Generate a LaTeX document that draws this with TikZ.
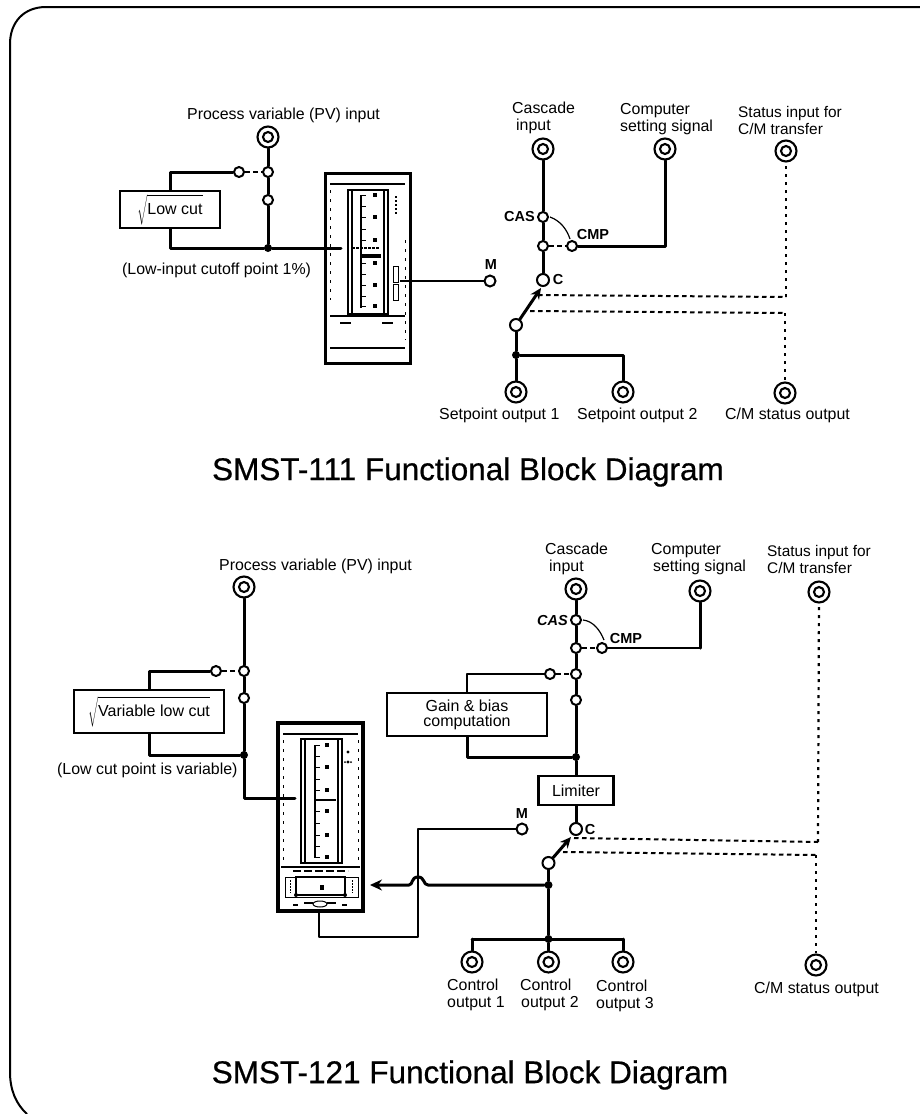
\documentclass[tikz,border=0pt]{standalone}
\usepackage{fontspec}
\setmainfont{Liberation Sans}
\usetikzlibrary{arrows.meta}
\tikzset{
  x=1pt,y=-1pt,
  lab/.style={font=\fontsize{15.9}{17}\selectfont,inner sep=0pt,align=left,anchor=west},
  ttl/.style={font=\fontsize{31.5}{34}\selectfont\addfontfeature{FakeBold=0.6},inner sep=0pt},
  tag/.style={font=\bfseries\fontsize{14.5}{16}\selectfont,inner sep=0pt},
  jack/.style={circle,draw,fill=white,line width=2.1pt,minimum size=21pt,inner sep=0pt,
    path picture={\draw[line width=2.1pt] (path picture bounding box.center) circle (5pt);}},
  sw/.style={circle,draw,fill=white,line width=2pt,minimum size=10pt,inner sep=0pt},
  swb/.style={sw,minimum size=12pt},
  dotj/.style={circle,fill=black,minimum size=8pt,inner sep=0pt},
  blockbox/.style={draw,fill=white,line width=2.4pt,inner sep=0pt,align=center,font=\fontsize{16}{15}\selectfont},
  wire/.style={line width=3pt,line cap=round,line join=round},
  wirem/.style={line width=2.9pt,line join=round},
  dashh/.style={line width=2pt,dash pattern=on 4.5pt off 3.5pt},
  dashv/.style={line width=2.2pt,dash pattern=on 3pt off 5pt},
  thinl/.style={line width=1.2pt},
  casing/.style={draw,line width=3pt,inner sep=0pt},
  rulel/.style={line width=1.6pt},
  fuzz/.style={line width=.8pt,dash pattern=on 3pt off 6pt},
  blob/.style={fill=black,minimum width=4pt,minimum height=4pt,inner sep=0pt},
}
\begin{document}
\begin{tikzpicture}
\useasboundingbox (0,0) rectangle (920,1114);
% outer frame
\draw[line width=2pt] (920,7) -- (46,7) .. controls (24,7) and (10,22) .. (10,44) -- (10,1072) .. controls (10,1090) and (16,1104) .. (27,1114);

% ===== titles
\node[ttl] (t1) at (468,472) {SMST-111 Functional Block Diagram};
\node[ttl] (t2) at (470,1075) {SMST-121 Functional Block Diagram};

% ===== SMST-111 left
\node[jack] (pvA) at (268,137) {};
\node[sw] (swA1) at (268,172) {};
\node[sw] (swA2) at (268,200) {};
\node[sw] (swA3) at (239,172) {};
\node[dotj] (jA) at (268,248) {};
\node[blockbox,minimum width=100pt,minimum height=37pt] (lowA) at (170,209.5) {$\sqrt{\vphantom{\bigg(}\mbox{Low cut}}$};
\coordinate (inA) at (341,248);
\node[lab] (lpvA) at (187,115) {Process variable (PV) input};
\node[lab] (lcutA) at (122,270) {(Low-input cutoff point 1\%)};
\draw[wire] (pvA) -- (swA1) (swA1) -- (swA2) (swA2) -- (jA);
\draw[wire] (swA3) -| (lowA);
\draw[wire] (lowA) |- (jA);
\draw[wire] (jA) -- (inA);
\draw[dashh] (swA3) -- (swA1);

% ===== instrument A
\node[casing,minimum width=85pt,minimum height=190pt] (instA) at (367.5,268) {};
\draw[rulel] (330,184) -- (405,184) (330,316) -- (405,316) (330,348) -- (405,348);
\draw[line width=1.8pt] (348,190) rectangle (388,314);
\draw[thinl] (352,190) -- (352,314) (384,190) -- (384,314);
\draw[line width=1.5pt] (361,195) -- (361,308);
\foreach \y in {195,206,217,229,240,263,274,285,296,306} \draw[line width=1pt] (361,\y) -- (366,\y);
\foreach \y in {195,217,240,263,285,306} \node[blob] at (375,\y) {};
\draw[line width=3.5pt] (362,256) -- (381,256);
\draw[line width=1.5pt,dash pattern=on 3pt off 1pt] (352,248) -- (380,248);
\draw[line width=1pt] (393,266) rectangle (398,282) (393,284) rectangle (398,300);
\draw[line width=1.5pt,dash pattern=on 2pt off 2pt] (396,196) -- (396,214);
\draw[line width=1.2pt] (340,323) -- (351,323) (382,323) -- (393,323);
\draw[fuzz] (330,190) -- (330,300) (405,240) -- (405,340);

\coordinate (outA) at (400,281);
\node[sw,minimum size=11pt] (mA) at (490,281) {};
\node[tag] (tagMA) at (491,265) {M};
\draw[wirem] (outA) -- (mA);

% ===== SMST-111 right
\node[jack] (casA) at (543,149) {};
\node[jack] (cmpA) at (665,149) {};
\node[jack] (stA) at (786,151) {};
\node[jack] (so1) at (516,392) {};
\node[jack] (so2) at (623,392) {};
\node[jack] (csA) at (785,393) {};
\node[sw] (casswA) at (543,217) {};
\node[sw] (midA) at (543,246) {};
\node[sw] (cmpswA) at (572,246) {};
\node[swb] (cA) at (543,280) {};
\node[swb] (armA) at (516,325) {};
\node[dotj] (jSP) at (516,355) {};
\coordinate (cornerA) at (665,246);
\coordinate (tipA) at (541,288);
\coordinate (d1A) at (538,295);
\coordinate (d1Ar) at (786,297);
\coordinate (d2A) at (530,311);
\coordinate (d2Ar) at (785,313);
\coordinate (brA) at (623,355);
\node[lab] (lcasA) at (512,117.5) {Cascade\\\hspace{4pt}input};
\node[lab] (lcmpA) at (620,119) {Computer\\setting signal};
\node[lab,font=\fontsize{15.4}{17}\selectfont] (lstA) at (738,120.5) {Status input for\\C/M transfer};
\node[lab] (lso1) at (439,415) {Setpoint output 1};
\node[lab] (lso2) at (577,415) {Setpoint output 2};
\node[lab] (lcsA) at (725,415) {C/M status output};
\node[tag,anchor=east] (tCASa) at (535,217) {CAS};
\node[tag] (tCMPa) at (593,235) {CMP};
\node[tag] (tCa) at (558,280) {C};
\draw[wire] (casA) -- (casswA) (casswA) -- (midA) (midA) -- (cA);
\draw[wire] (cmpswA) -- (cornerA) -- (cmpA);
\draw[dashh] (midA) -- (cmpswA);
\draw[thinl] (casswA.east) ++(1,0) .. controls (561,221) and (567,230) .. (570,239);
\draw[wire,-{Stealth[length=11pt,width=10pt]}] (armA) -- (tipA);
\draw[wire] (armA) -- (jSP) (jSP) -- (so1);
\draw[wire] (jSP) -- (brA) -- (so2);
\draw[dashh] (d1A) -- (d1Ar);
\draw[dashh] (d2A) -- (d2Ar);
\draw[dashv] (d1Ar) -- (stA);
\draw[dashv] (d2Ar) -- (csA);

% ===== SMST-121 left
\node[jack] (pvB) at (244,587) {};
\node[sw] (swB1) at (244,671) {};
\node[sw] (swB2) at (244,698) {};
\node[sw] (swB3) at (216,671) {};
\node[dotj] (jB) at (244,755) {};
\node[blockbox,minimum width=150pt,minimum height=43pt] (lowB) at (149,711.5) {$\sqrt{\vphantom{\bigg(}\mbox{Variable low cut}}$};
\coordinate (kneeB) at (244,798);
\coordinate (inB) at (295,798);
\node[lab] (lpvB) at (219,566) {Process variable (PV) input};
\node[lab] (lcutB) at (57,770) {(Low cut point is variable)};
\draw[wire] (pvB) -- (swB1) (swB1) -- (swB2) (swB2) -- (jB);
\draw[wire] (swB3) -| (lowB);
\draw[wire] (lowB) |- (jB);
\draw[wire] (jB) -- (kneeB) -- (inB);
\draw[dashh] (swB3) -- (swB1);

% ===== instrument B
\node[casing,line width=3.6pt,minimum width=85pt,minimum height=188pt] (instB) at (320.5,817) {};
\draw[rulel] (283,734) -- (358,734) (281,867) -- (360,867);
\draw[line width=2.6pt] (301,739) rectangle (342,863);
\draw[thinl] (305,739) -- (305,863) (338,739) -- (338,863);
\draw[line width=1.8pt] (315,745) -- (315,858);
\foreach \y in {745,756,767,779,790,811,823,835,846,857} \draw[line width=1pt] (315,\y) -- (320,\y);
\foreach \y in {745,767,790,811,835,857} \node[blob] at (327,\y) {};
\draw[line width=2pt] (315,800) -- (336,800);
\draw[fuzz] (283,740) -- (283,860) (358,740) -- (358,860);
\fill (348,752) circle (1.6pt) (348,762) circle (1.6pt) (345,762) circle (1pt) (351,762) circle (1pt);
\draw[line width=1pt] (285,877) rectangle (358,897);
\draw[line width=1.6pt] (296,877) -- (345,877) -- (345,895) -- (296,895) -- cycle;
\draw[line width=1pt,dash pattern=on 2pt off 1pt] (290,880) -- (290,893) (352,880) -- (352,893);
\draw[line width=1.5pt,dash pattern=on 8pt off 3pt] (293,871) -- (348,871);
\node[blob,minimum height=5pt] at (322,887) {};
\draw[line width=1pt] (320,904) ellipse (7pt and 3pt);
\draw[line width=1.5pt] (293,905) -- (298,905) (304,903) -- (313,903) (327,903) -- (336,903) (342,905) -- (347,905);
\fill (296,895) circle (2pt) (345,895) circle (2pt);

% ===== SMST-121 middle
\node[jack] (casB) at (576,589) {};
\node[jack] (cmpB) at (700,591) {};
\node[jack] (stB) at (819,592) {};
\node[jack] (cu1) at (472,962) {};
\node[jack] (cu2) at (548.5,962) {};
\node[jack] (cu3) at (623,962) {};
\node[jack] (csB) at (816,965) {};
\node[sw] (casswB) at (576,620) {};
\node[sw] (midB) at (576,648) {};
\node[sw] (cmpswB) at (602,648) {};
\node[sw] (sw2B) at (576,674) {};
\node[sw] (sw3B) at (576,700) {};
\node[sw] (sw4B) at (550,674) {};
\node[dotj] (jG) at (576,757) {};
\node[blockbox,minimum width=160pt,minimum height=43pt] (gain) at (467,714.5) {Gain \& bias\\computation};
\node[blockbox,minimum width=75pt,minimum height=29pt] (lim) at (576,790.5) {Limiter};
\node[swb] (cB) at (576,829) {};
\node[swb] (armB) at (548.5,863) {};
\node[dotj] (jO) at (548.5,885) {};
\node[dotj] (jC) at (548.5,939) {};
\node[sw,minimum size=11pt] (mB) at (522,829) {};
\coordinate (cornerB) at (700,648);
\coordinate (tipB) at (571,837);
\coordinate (d1B) at (574,838);
\coordinate (d1Br) at (818,842);
\coordinate (d2B) at (563,852);
\coordinate (d2Br) at (816,855);
\coordinate (br1) at (472,939);
\coordinate (br3) at (623,939);
\coordinate (mk1) at (418,829);
\coordinate (mk2) at (418,937);
\coordinate (mk3) at (319,937);
\coordinate (hR) at (428,885);
\coordinate (hL) at (409,885);
\coordinate (tipO) at (370,885);
\node[lab] (lcasB) at (545,558.5) {Cascade\\\hspace{4pt}input};
\node[lab] (lcmpB) at (651,559) {Computer\\\hspace{2pt}setting signal};
\node[lab,font=\fontsize{15.4}{17}\selectfont] (lstB) at (767,559.5) {Status input for\\C/M transfer};
\node[lab] (lu1) at (447,994.5) {Control\\output 1};
\node[lab] (lu2) at (520,995) {Control\\\hspace{1pt}output 2};
\node[lab] (lu3) at (596,995.5) {Control\\output 3};
\node[lab] (lcsB) at (754,989) {C/M status output};
\node[tag,font=\bfseries\itshape\fontsize{14.5}{16}\selectfont,anchor=east] (tCASb) at (568,620) {CAS};
\node[tag] (tCMPb) at (626,638) {CMP};
\node[tag] (tCb) at (590,829) {C};
\node[tag] (tMb) at (522,814) {M};
\draw[wire] (casB) -- (casswB) (casswB) -- (midB) (midB) -- (sw2B) (sw2B) -- (sw3B) (sw3B) -- (jG);
\draw[wire] (jG) -- (lim);
\draw[wire] (lim) -- (cB);
\draw[wirem] (cmpswB) -- (cornerB);
\draw[wire] (cornerB) -- (cmpB);
\draw[dashh] (midB) -- (cmpswB);
\draw[dashh] (sw4B) -- (sw2B);
\draw[wirem] (sw4B) -| (gain);
\draw[wire] (gain) |- (jG);
\draw[thinl] (casswB.east) ++(1,0) .. controls (593,621) and (600,630) .. (604,640);
\draw[wire,-{Stealth[length=11pt,width=10pt]}] (armB) -- (tipB);
\draw[wire] (armB) -- (jO) (jO) -- (jC);
\draw[wire] (br1) -- (br3);
\draw[wire] (br1) -- (cu1);
\draw[wire] (jC) -- (cu2);
\draw[wire] (br3) -- (cu3);
\draw[wirem] (mB) -- (mk1) -- (mk2) -- (mk3) -- (instB.south -| mk3);
\draw[wire,-{Stealth[length=12pt,width=11pt]}] (jO) -- (hR) .. controls (423,885) and (425,877) .. (418,877) .. controls (411,877) and (413,885) .. (hL) -- (tipO);
\draw[dashh] (d1B) -- (d1Br);
\draw[dashh] (d2B) -- (d2Br);
\draw[dashv] (d1Br) -- (stB);
\draw[dashv] (d2Br) -- (csB);
\end{tikzpicture}
\end{document}
